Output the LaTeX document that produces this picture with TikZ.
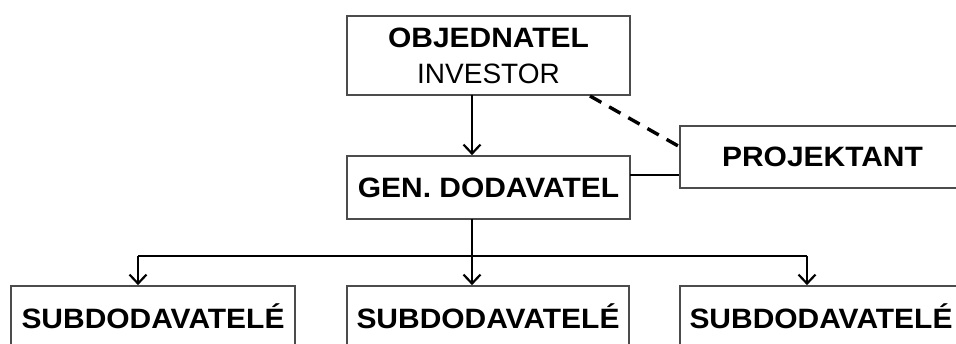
\documentclass[tikz,border=0pt]{standalone}
\usepackage{fontspec}
\setmainfont{Liberation Sans}
\newfontfamily\widesans[FakeStretch=1.07]{Liberation Sans}
\newfontfamily\plainsans{Liberation Sans}
\usetikzlibrary{arrows.meta}
\tikzset{
  box/.style={draw=black!70, line width=1.7pt, rectangle, inner sep=0pt, font=\widesans\fontsize{28}{36}\selectfont\bfseries, align=center},
  conn/.style={draw=black, line width=2.4pt},
  arr/.style={conn, -{Straight Barb[length=9pt,width=17pt,line width=2.2pt]}},
}
\begin{document}
\begin{tikzpicture}[x=1pt,y=-1pt]
\useasboundingbox (0,0) rectangle (956,344);
\begin{scope}
\clip (0,0) rectangle (956,344);
\node[box, minimum width=283pt, minimum height=79pt] (obj) at (488.5,55.5) {OBJEDNATEL\\{\plainsans\mdseries INVESTOR}};
\node[box, minimum width=283pt, minimum height=63pt] (gen) at (488.5,187.5) {GEN. DODAVATEL};
\node[box, minimum width=285pt, minimum height=62pt] (proj) at (822.5,157) {PROJEKTANT};
\node[box, minimum width=284pt, minimum height=60pt] (sub1) at (153,316) {SUBDODAVATELÉ};
\node[box, minimum width=282pt, minimum height=60pt] (sub2) at (488,316) {SUBDODAVATELÉ};
\node[box, minimum width=282pt, minimum height=60pt] (sub3) at (821,316) {SUBDODAVATELÉ};
\coordinate (busL) at (138,256);
\coordinate (busM) at (472,256);
\coordinate (busR) at (807,256);
\coordinate (dashS) at (590,96);
\coordinate (dashE) at (680,147);
\coordinate (genR) at (630,175);
\coordinate (objB) at (472,95);
\coordinate (genB) at (472,219);
\draw[arr] (objB) -- (objB |- gen.north);
\draw[conn] (genR) -- (genR -| proj.west);
\draw[conn, line width=3.4pt, dash pattern=on 13pt off 9pt] (dashS) -- (dashE);
\draw[conn] (genB) -- (busM);
\draw[conn, line width=2.8pt] (busL) -- (busR);
\draw[arr] (busL) -- (busL |- sub1.north);
\draw[arr] (busM) -- (busM |- sub2.north);
\draw[arr] (busR) -- (busR |- sub3.north);
\end{scope}
\end{tikzpicture}
\end{document}
